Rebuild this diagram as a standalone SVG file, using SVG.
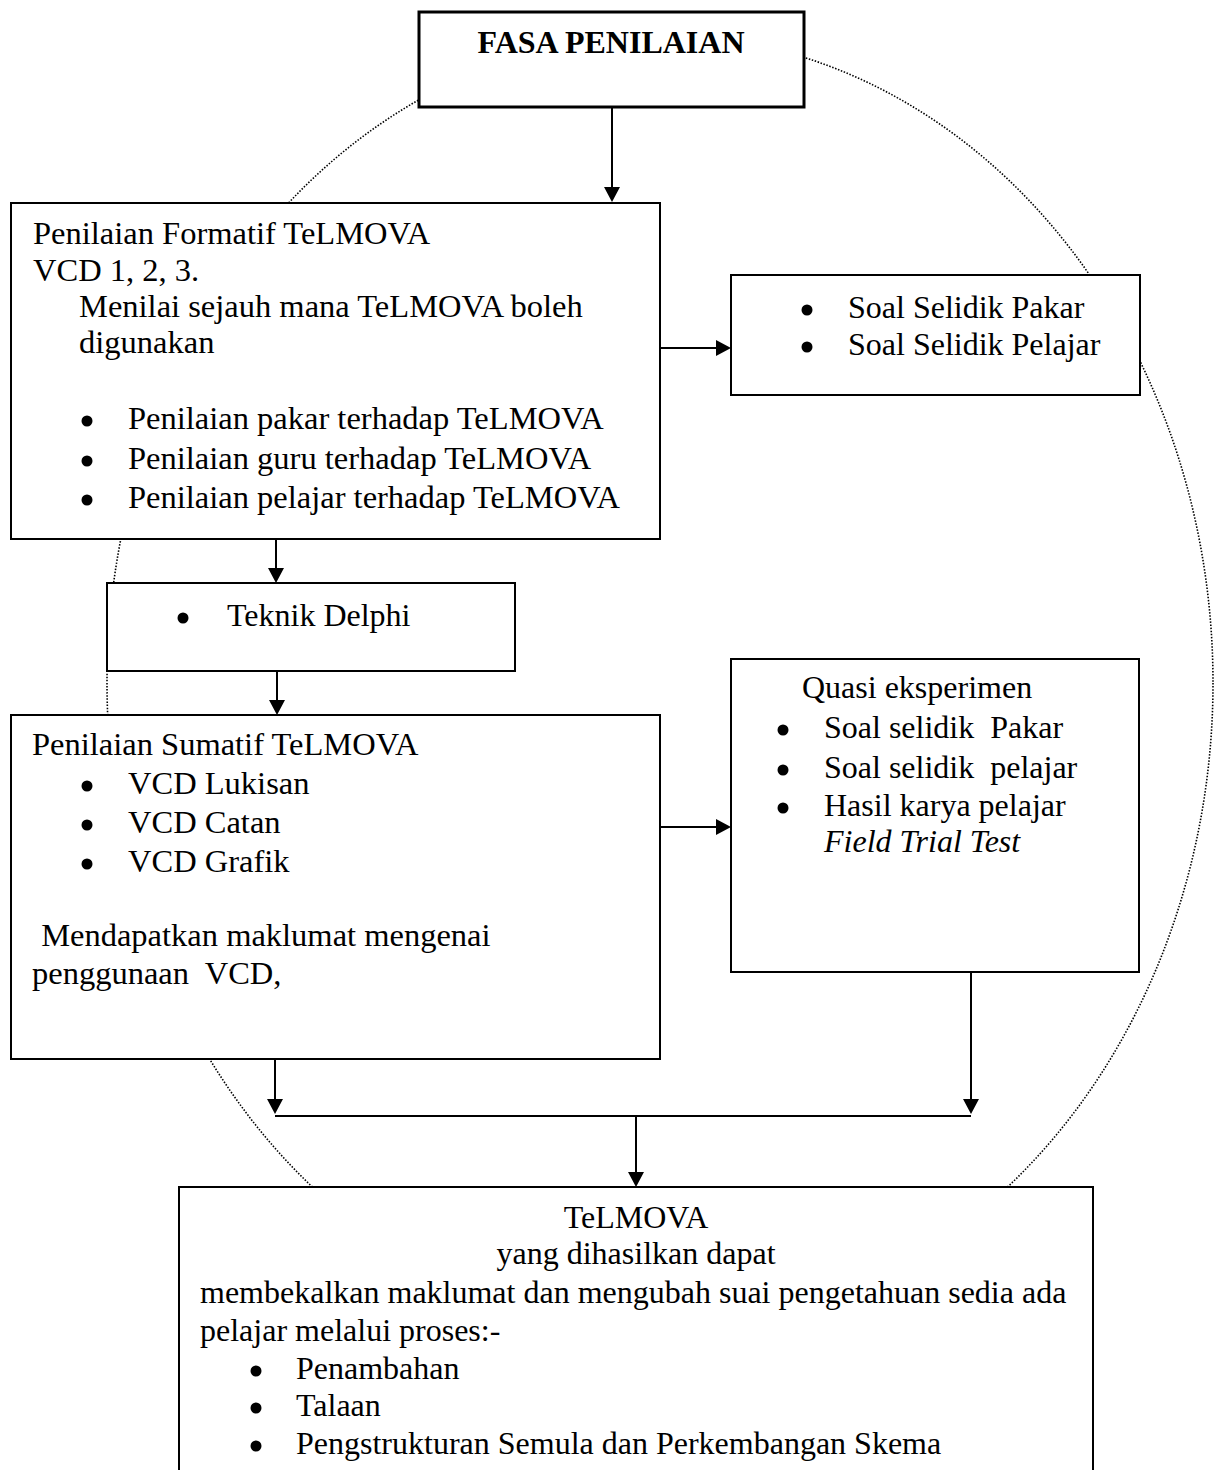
<svg xmlns="http://www.w3.org/2000/svg" width="1221" height="1470" viewBox="0 0 1221 1470">
  <style>
    .box { fill: #ffffff; stroke: #000000; stroke-width: 2; }
    .box-thick { fill: #ffffff; stroke: #000000; stroke-width: 3; }
    .txt { font-family: "Liberation Serif", "Times New Roman", serif; font-size: 32px; fill: #000000; }
    .wide { font-size: 32.5px; }
    .bold { font-weight: bold; }
    .ital { font-style: italic; }
    .mid { text-anchor: middle; }
    .dot { fill: #000000; }
    .link { fill: none; stroke: #000000; stroke-width: 2; }
    .orbit { fill: none; stroke: #000000; stroke-width: 1.6; stroke-dasharray: 1.5 1.6; }
  </style>
  <defs>
    <marker id="arrow" viewBox="0 0 15 16" refX="9" refY="8" markerWidth="15" markerHeight="16" markerUnits="userSpaceOnUse" orient="auto">
      <path d="M0,0 L15,8 L0,16 Z" fill="#000000"/>
    </marker>
  </defs>

  <rect width="1221" height="1470" fill="#ffffff"/>

  <!-- dotted cycle behind the boxes -->
  <ellipse class="orbit" cx="660" cy="683" rx="553" ry="648"/>

  <!-- connectors -->
  <g id="connectors">
    <line class="link" x1="612" y1="106" x2="612" y2="196" marker-end="url(#arrow)"/>
    <line class="link" x1="660" y1="348" x2="725" y2="348" marker-end="url(#arrow)"/>
    <line class="link" x1="276" y1="539" x2="276" y2="577" marker-end="url(#arrow)"/>
    <line class="link" x1="277" y1="671" x2="277" y2="709" marker-end="url(#arrow)"/>
    <line class="link" x1="660" y1="827" x2="725" y2="827" marker-end="url(#arrow)"/>
    <line class="link" x1="275" y1="1059" x2="275" y2="1108" marker-end="url(#arrow)"/>
    <line class="link" x1="971" y1="972" x2="971" y2="1108" marker-end="url(#arrow)"/>
    <line class="link" x1="275" y1="1116" x2="971" y2="1116"/>
    <line class="link" x1="636" y1="1116" x2="636" y2="1181" marker-end="url(#arrow)"/>
  </g>

  <!-- phase title -->
  <g id="fasa-penilaian">
    <rect class="box-thick" x="419" y="12" width="385" height="95"/>
    <text class="txt bold mid" x="611" y="53">FASA PENILAIAN</text>
  </g>

  <!-- formative assessment -->
  <g id="penilaian-formatif">
    <rect class="box" x="11" y="203" width="649" height="336"/>
    <text class="txt wide" x="33" y="244">Penilaian Formatif TeLMOVA</text>
    <text class="txt wide" x="33" y="281">VCD 1, 2, 3.</text>
    <text class="txt wide" x="79" y="317">Menilai sejauh mana TeLMOVA boleh</text>
    <text class="txt wide" x="79" y="353">digunakan</text>
    <circle class="dot" cx="87" cy="421" r="5.5"/>
    <text class="txt wide" x="128" y="429">Penilaian pakar terhadap TeLMOVA</text>
    <circle class="dot" cx="87" cy="461" r="5.5"/>
    <text class="txt wide" x="128" y="469">Penilaian guru terhadap TeLMOVA</text>
    <circle class="dot" cx="87" cy="500" r="5.5"/>
    <text class="txt wide" x="128" y="508">Penilaian pelajar terhadap TeLMOVA</text>
  </g>

  <!-- questionnaires -->
  <g id="soal-selidik">
    <rect class="box" x="731" y="275" width="409" height="120"/>
    <circle class="dot" cx="807" cy="310" r="5.5"/>
    <text class="txt" x="848" y="318">Soal Selidik Pakar</text>
    <circle class="dot" cx="807" cy="347" r="5.5"/>
    <text class="txt" x="848" y="355">Soal Selidik Pelajar</text>
  </g>

  <!-- Delphi technique -->
  <g id="teknik-delphi">
    <rect class="box" x="107" y="583" width="408" height="88"/>
    <circle class="dot" cx="183" cy="618" r="5.5"/>
    <text class="txt" x="227" y="626">Teknik Delphi</text>
  </g>

  <!-- summative assessment -->
  <g id="penilaian-sumatif">
    <rect class="box" x="11" y="715" width="649" height="344"/>
    <text class="txt wide" x="32" y="755">Penilaian Sumatif TeLMOVA</text>
    <circle class="dot" cx="87" cy="786" r="5.5"/>
    <text class="txt wide" x="128" y="794">VCD Lukisan</text>
    <circle class="dot" cx="87" cy="825" r="5.5"/>
    <text class="txt wide" x="128" y="833">VCD Catan</text>
    <circle class="dot" cx="87" cy="864" r="5.5"/>
    <text class="txt wide" x="128" y="872">VCD Grafik</text>
    <text class="txt wide" x="33" y="946" xml:space="preserve"> Mendapatkan maklumat mengenai</text>
    <text class="txt wide" x="32" y="984" xml:space="preserve">penggunaan  VCD,</text>
  </g>

  <!-- quasi experiment -->
  <g id="quasi-eksperimen">
    <rect class="box" x="731" y="659" width="408" height="313"/>
    <text class="txt" x="802" y="698">Quasi eksperimen</text>
    <circle class="dot" cx="783" cy="730" r="5.5"/>
    <text class="txt" x="824" y="738" xml:space="preserve">Soal selidik  Pakar</text>
    <circle class="dot" cx="783" cy="770" r="5.5"/>
    <text class="txt" x="824" y="778" xml:space="preserve">Soal selidik  pelajar</text>
    <circle class="dot" cx="783" cy="808" r="5.5"/>
    <text class="txt" x="824" y="816">Hasil karya pelajar</text>
    <text class="txt ital" x="824" y="852">Field Trial Test</text>
  </g>

  <!-- outcome -->
  <g id="hasil-telmova">
    <rect class="box" x="179" y="1187" width="914" height="300"/>
    <text class="txt mid" x="636" y="1228">TeLMOVA</text>
    <text class="txt mid" x="636" y="1264">yang dihasilkan dapat</text>
    <text class="txt" x="200" y="1303">membekalkan maklumat dan mengubah suai pengetahuan sedia ada</text>
    <text class="txt" x="200" y="1341">pelajar melalui proses:-</text>
    <circle class="dot" cx="256" cy="1371" r="5.5"/>
    <text class="txt" x="296" y="1379">Penambahan</text>
    <circle class="dot" cx="256" cy="1408" r="5.5"/>
    <text class="txt" x="296" y="1416">Talaan</text>
    <circle class="dot" cx="256" cy="1446" r="5.5"/>
    <text class="txt" x="296" y="1454">Pengstrukturan Semula dan Perkembangan Skema</text>
  </g>
</svg>
